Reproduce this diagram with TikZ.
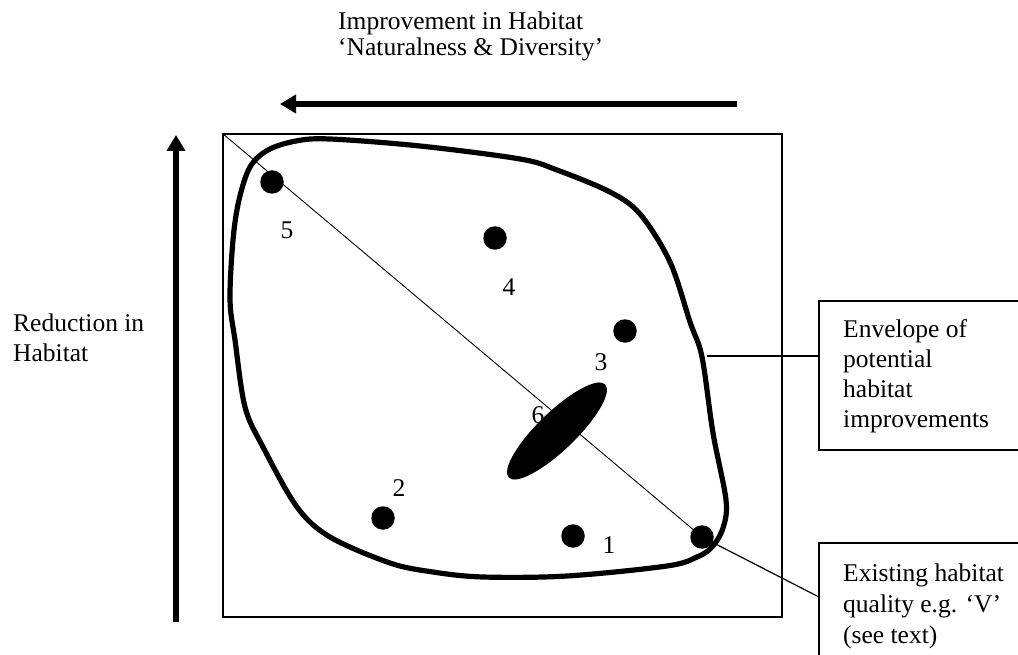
\documentclass[tikz,border=0pt]{standalone}
\usepackage{fontspec}
\setmainfont{Liberation Serif}
\usetikzlibrary{arrows.meta}
\tikzset{
  txt/.style={inner sep=0pt, anchor=base west, align=left, font=\fontsize{25.5}{30}\selectfont},
  num/.style={inner sep=0pt, font=\fontsize{25.5}{28}\selectfont},
  dot/.style={circle, fill=black, minimum size=23.5pt, inner sep=0pt},
  thin line/.style={line width=1.2pt},
  big arrow/.style={line width=5.5pt, -{Triangle[length=16pt,width=18pt]}},
  envelope/.style={line width=5.2pt, line join=round}
}
\begin{document}
\begin{tikzpicture}[x=1pt,y=-1pt]
\useasboundingbox (0,0) rectangle (1018,655);
% axes
\coordinate (ha) at (737,104);
\coordinate (hb) at (280,104);
\draw[big arrow] (ha) -- (hb);
\coordinate (va) at (176,622);
\coordinate (vb) at (176,135);
\draw[big arrow] (va) -- (vb);
\node[txt, font=\fontsize{25.5}{26}\selectfont] (toptxt) at (338,56) {Improvement in Habitat\\‘Naturalness \& Diversity’};
\node[txt] (lefttxt) at (13,361) {Reduction in\\Habitat};
% square
\node[draw, thin line, minimum width=559pt, minimum height=483pt, inner sep=0pt] (sq) at (502.5,375.5) {};
% envelope
\draw[envelope] plot[smooth cycle, tension=0.55] coordinates {
 (230,300) (233,240) (239,200) (250,167) (268,150) (296,141) (330,139)
 (420,146) (520,159) (557,170) (610,192) (640,214) (670,262) (690,322)
 (702,357) (713,433) (726,500) (723,528) (712,547) (697,557) (667,566)
 (567,576) (483,577) (433,572) (390,563) (330,537) (297,507) (263,447)
 (245,407) (235,340)};
% label 6 lies partly under the ellipse
\node[num] (l6) at (538,415) {6};
% diagonal
\draw[line width=0.9pt] (sq.north west) -- (702,537) coordinate (diagend);
% ellipse 6
\begin{scope}[rotate around={44:(557,431)}]
\fill (557,431) ellipse [x radius=67pt, y radius=19pt];
\end{scope}
% dots
\node[dot] (d5) at (272,182) {};
\node[dot] (d4) at (495,238) {};
\node[dot] (d3) at (625,331) {};
\node[dot] (d2) at (383,518) {};
\node[dot] (d1) at (573,536) {};
\node[dot] (dV) at (702,537) {};
% labels
\node[num] (l5) at (287,230) {5};
\node[num] (l4) at (509,287) {4};
\node[num] (l3) at (601,362) {3};
\node[num] (l2) at (399,488) {2};
\node[num] (l1) at (609,545) {1};
% envelope box
\draw[thin line] (1030,301) -- (819,301) -- (819,450) -- (1030,450);
\node[txt] (envtxt) at (843,427) {Envelope of\\potential\\habitat\\improvements};
\coordinate (envon) at (707,356);
\coordinate (envbox) at (819,356);
\draw[thin line] (envon) -- (envbox);
% existing box
\draw[thin line] (1030,543) -- (819,543) -- (819,670);
\node[txt, font=\fontsize{25.5}{31}\selectfont] (extxt) at (843,643) {Existing habitat\\quality e.g. ‘V’\\(see text)};
\coordinate (exbox) at (819,597);
\draw[thin line] (dV.center) -- (exbox);
\end{tikzpicture}
\end{document}
